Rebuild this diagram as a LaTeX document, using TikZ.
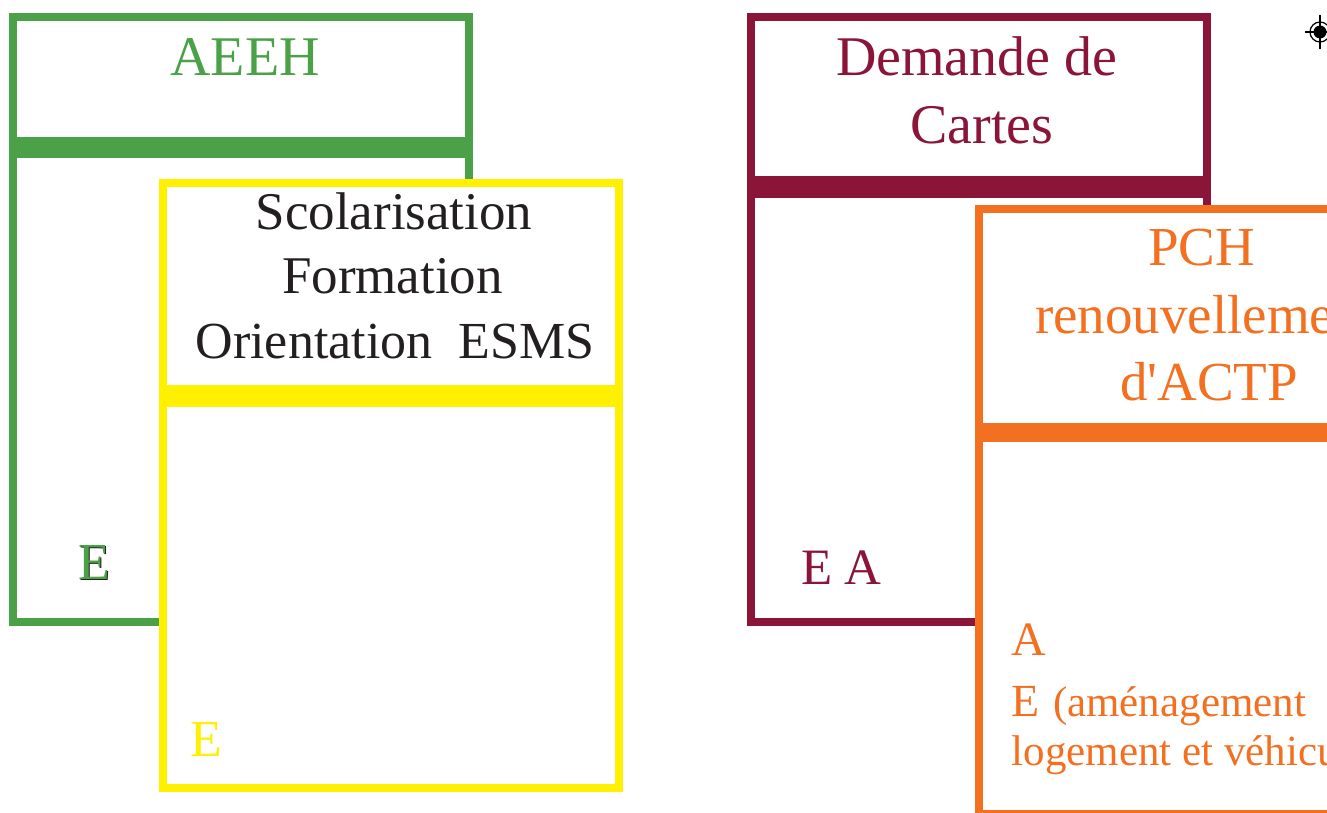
\documentclass[tikz,border=0pt]{standalone}
\usepackage{fontspec}
\newfontfamily\lsf{Liberation Serif}
\newcommand\fsz[1]{\fontsize{#1}{#1}\selectfont}
\definecolor{cgreen}{RGB}{74,161,72}
\definecolor{cyellow}{RGB}{255,240,0}
\definecolor{cmaroon}{RGB}{138,21,56}
\definecolor{corange}{RGB}{243,112,33}
\definecolor{cdark}{RGB}{35,31,32}
\tikzset{
  frame/.style={line width=8pt},
  txt/.style={inner sep=0pt, outer sep=0pt},
}
\begin{document}
\begin{tikzpicture}[x=1pt,y=-1pt]
\clip (0,0) rectangle (1327,813);
\fill[white] (0,0) rectangle (1327,813);
% ---------- green card ----------
\draw[frame, draw=cgreen] (12.5,16.7) rectangle (469,622);
\fill[cgreen] (8.5,136.7) rectangle (473,157.7);
\node[txt, text=cgreen, font=\lsf\fsz{56}, anchor=base] (aeeh) at (245,76) {AEEH};
\node[txt, text=cdark, font=\lsf\fsz{52}, anchor=base west] (eshadow) at (79.3,580.8) {E};
\node[txt, text=cgreen, font=\lsf\fsz{52}, anchor=base west] (egreen) at (78.3,579.3) {E};
% ---------- yellow card ----------
\draw[frame, draw=cyellow, fill=white] (163,183) rectangle (619,787.5);
\fill[cyellow] (159,385.3) rectangle (623,406.7);
\node[txt, text=cdark, font=\lsf\fsz{53}, anchor=base] (scol) at (394,229.3) {Scolarisation};
\node[txt, text=cdark, font=\lsf\fsz{53}, anchor=base] (form) at (392.5,293.3) {Formation};
\node[txt, text=cdark, font=\lsf\fsz{52}, anchor=base] (orient) at (395,358.3) {Orientation\ \ ESMS};
\node[txt, text=cyellow, font=\lsf\fsz{52}, anchor=base west] (eyellow) at (190,756) {E};
% ---------- maroon card ----------
\draw[frame, draw=cmaroon] (751,16.7) rectangle (1207,622);
\fill[cmaroon] (747,176) rectangle (1211,198.3);
\node[txt, text=cmaroon, font=\lsf\fsz{56}, anchor=base] (demande) at (976.7,76) {Demande de};
\node[txt, text=cmaroon, font=\lsf\fsz{56}, anchor=base] (cartes) at (982,143.3) {Cartes};
\node[txt, text=cmaroon, font=\lsf\fsz{51}, anchor=base west] (ea) at (801,584.3) {E A};
% ---------- orange card ----------
\draw[frame, draw=corange, fill=white] (979,209) rectangle (1430,814);
\fill[corange] (975,423.3) rectangle (1434,442.3);
\node[txt, text=corange, font=\lsf\fsz{55}, anchor=base] (pch) at (1201.7,265) {PCH};
\node[txt, text=corange, font=\lsf\fsz{55}, anchor=base west] (renouv) at (1035,333.3) {renouvellement};
\node[txt, text=corange, font=\lsf\fsz{55}, anchor=base west] (actp) at (1120,400) {d'ACTP};
\node[txt, text=corange, font=\lsf\fsz{48}, anchor=base west] (oa) at (1011.7,655) {A};
\node[txt, text=corange, font=\lsf\fsz{46}, anchor=base west] (oe) at (1011.7,716) {E};
\node[txt, text=corange, font=\lsf\fsz{43}, anchor=base west] (amen) at (1053,716) {(aménagement};
\node[txt, text=corange, font=\lsf\fsz{43}, anchor=base west] (logt) at (1011.7,765.7) {logement et véhicule)};
% ---------- registration mark ----------
\coordinate (reg) at (1320,32);
\draw[line width=1.2pt] (reg) circle[radius=10pt];
\fill (reg) circle[radius=6.5pt];
\draw[line width=1.1pt] ([xshift=-15pt]reg) -- ([xshift=15pt]reg);
\draw[line width=1.1pt] ([yshift=-17pt]reg) -- ([yshift=17pt]reg);
\end{tikzpicture}
\end{document}
